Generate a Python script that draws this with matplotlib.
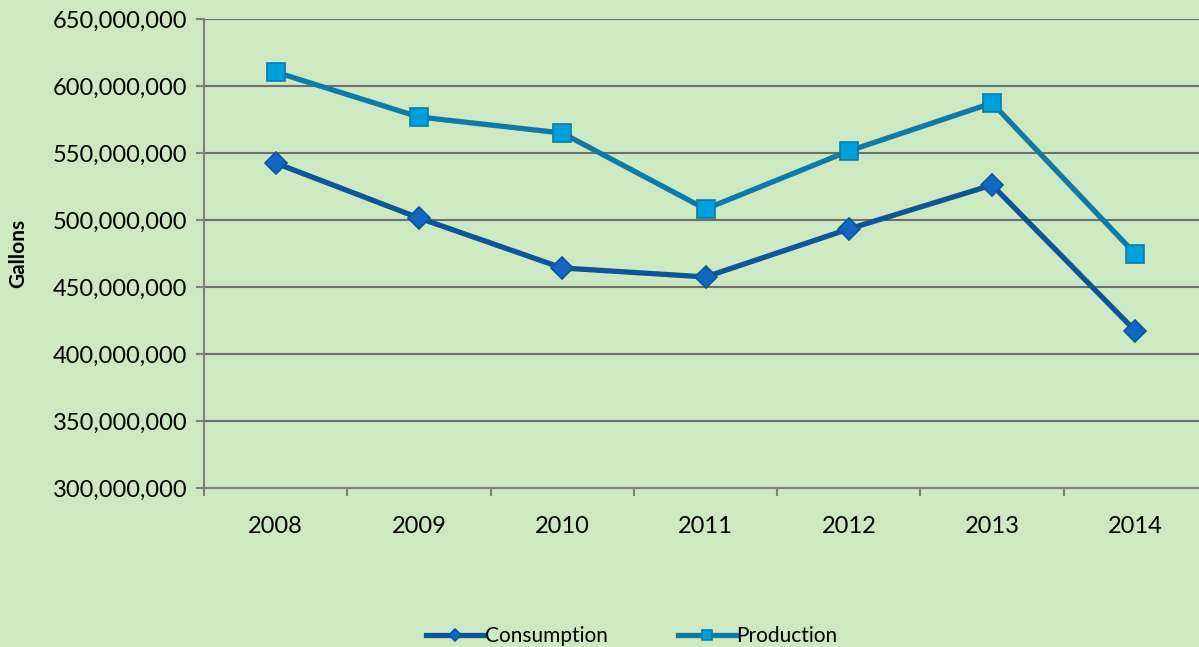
import matplotlib.pyplot as plt
import matplotlib.ticker as mticker
import numpy as np

years = ['2008', '2009', '2010', '2011', '2012', '2013', '2014']
consumption = [542500000, 501500000, 464200000, 457500000, 493300000, 526100000, 417200000]
production = [610400000, 576900000, 564900000, 508200000, 551500000, 587300000, 474600000]

plt.rcParams['font.family'] = ['Lato', 'DejaVu Sans']
bg = '#cce9c1'

fig = plt.figure(figsize=(11.99, 6.47), dpi=100, facecolor=bg)
ax = fig.add_axes([204/1199, 1-488/647, 1003/1199, (488-19)/647])
ax.set_facecolor(bg)

x = np.arange(len(years))
ax.plot(x, consumption, color='#0b5598', lw=3.8, marker='D', ms=11,
        mfc='#1367c4', mec='#0b5598', mew=1.2, label='Consumption', zorder=3)
ax.plot(x, production, color='#0f7aa8', lw=3.8, marker='s', ms=13,
        mfc='#00a0dc', mec='#0f7aa8', mew=1.2, label='Production', zorder=3)

ax.set_xlim(-0.5, 6.5)
ax.set_ylim(300000000, 650000000)
ax.yaxis.set_major_locator(mticker.MultipleLocator(50000000))
ax.yaxis.set_major_formatter(mticker.StrMethodFormatter('{x:,.0f}'))
ax.set_xticks(x)
ax.set_xticklabels(years)
ax.set_xticks(np.arange(-0.5, 7, 1), minor=True)
ax.tick_params(axis='x', which='major', length=0, pad=20, labelsize=17)
ax.tick_params(axis='x', which='minor', length=6, width=1.5, color='#7f7f7f', direction='out')
ax.tick_params(axis='y', length=6, width=1.5, color='#7f7f7f', labelsize=17, pad=6)
ax.grid(axis='y', color='#6f6f6f', lw=1.5)
for s in ['top', 'right']:
    ax.spines[s].set_visible(False)
for s in ['left', 'bottom']:
    ax.spines[s].set_color('#7f7f7f')
    ax.spines[s].set_linewidth(1.5)

fig.text(18/1199, 1-253/647, 'Gallons', rotation=90, fontsize=15, fontweight='bold',
         ha='center', va='center')

fig.legend(loc='center', bbox_to_anchor=(632/1199, 1-636/647), ncol=2, frameon=False,
           fontsize=15, handlelength=2.75, handletextpad=0.05, columnspacing=3.4,
           markerscale=0.55)

fig.savefig('out.png', dpi=100, facecolor=bg)
